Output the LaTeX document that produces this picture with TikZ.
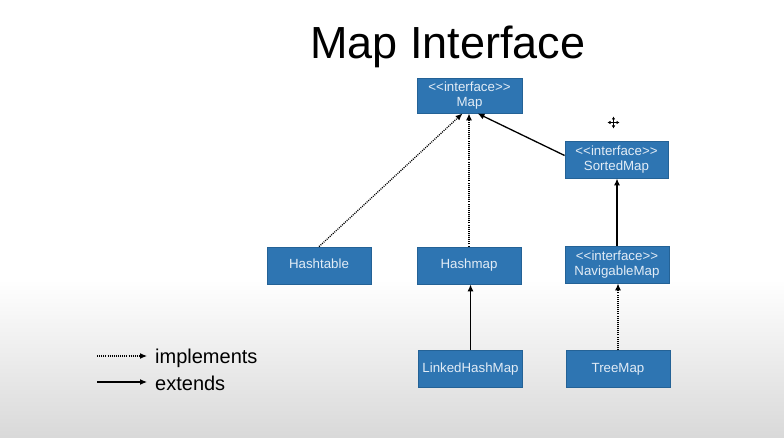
\documentclass[tikz,border=0pt]{standalone}
\usepackage{fontspec}
\setmainfont{Liberation Sans}[Ligatures=TeXOff]
\usetikzlibrary{arrows.meta}
\definecolor{boxblue}{RGB}{46,117,178}
\definecolor{boxedge}{RGB}{36,98,150}
\definecolor{boxtext}{RGB}{226,236,246}
\tikzset{
  classbox/.style={draw=boxedge, line width=0.8pt, fill=boxblue, text=boxtext,
    minimum width=104pt, minimum height=37pt, inner sep=0pt, align=center,
    font=\fontsize{13.3}{15}\selectfont},
  oneline/.style={text height=9.5pt, text depth=2.5pt},
  impl/.style={dash pattern=on 1pt off 1.1pt, line width=1.3pt, -{Latex[length=7pt,width=6pt]}},
  ext/.style={line width=1.3pt, -{Latex[length=7pt,width=6pt]}},
  movearrow/.style={line width=1.1pt, {Latex[length=3pt,width=3.5pt]}-{Latex[length=3pt,width=3.5pt]}}
}
\begin{document}
\begin{tikzpicture}[x=1pt, y=-1pt]
  % slide background
  \useasboundingbox (0,0) rectangle (784,438);
  \fill[white] (0,0) rectangle (784,280);
  \shade[top color=white, bottom color=black!15] (0,279.5) rectangle (784,438);

  % title
  \node (title) at (448,47) {\fontsize{45}{50}\selectfont Map Interface};

  % classes and interfaces
  \node[classbox, minimum width=105pt, minimum height=35pt] (map) at (469.5,95.5) {<<interface>>\\Map};
  \node[classbox, minimum width=103pt] (sorted) at (616.5,159.5) {<<interface>>\\SortedMap};
  \node[classbox, oneline] (hashtable) at (319,265.5) {Hashtable};
  \node[classbox, oneline] (hashmap) at (469,265.5) {Hashmap};
  \node[classbox] (navigable) at (617,264.5) {<<interface>>\\NavigableMap};
  \node[classbox, oneline] (linked) at (470.5,369) {LinkedHashMap};
  \node[classbox, oneline] (treemap) at (618,369) {TreeMap};

  % relations
  \draw[impl] (hashtable.north) -- ([xshift=-7pt]map.south);
  \draw[impl] (hashmap.north) -- (hashmap.north |- map.south);
  \draw[ext] ([yshift=4pt]sorted.west) -- ([xshift=8pt]map.south);
  \draw[ext] (navigable.north) -- (navigable.north |- sorted.south);
  \draw[ext] (linked.north) -- (linked.north |- hashmap.south);
  \draw[impl] (treemap.north) -- (treemap.north |- navigable.south);

  % legend
  \coordinate (li1) at (97,356);
  \coordinate (li2) at (147,356);
  \coordinate (le1) at (97,382);
  \coordinate (le2) at (147,382);
  \draw[impl, line width=1.1pt] (li1) -- (li2);
  \draw[ext, line width=1.1pt] (le1) -- (le2);
  \node[anchor=west, font=\fontsize{20}{22}\selectfont, inner sep=0pt] (limpl) at (155,358) {implements};
  \node[anchor=west, font=\fontsize{20}{22}\selectfont, inner sep=0pt] (lext) at (155,383) {extends};

  % move cursor
  \coordinate (cur) at (613.5,122.5);
  \draw[movearrow] ([xshift=-6pt]cur) -- ([xshift=6pt]cur);
  \draw[movearrow] ([yshift=-6pt]cur) -- ([yshift=6pt]cur);
\end{tikzpicture}
\end{document}
